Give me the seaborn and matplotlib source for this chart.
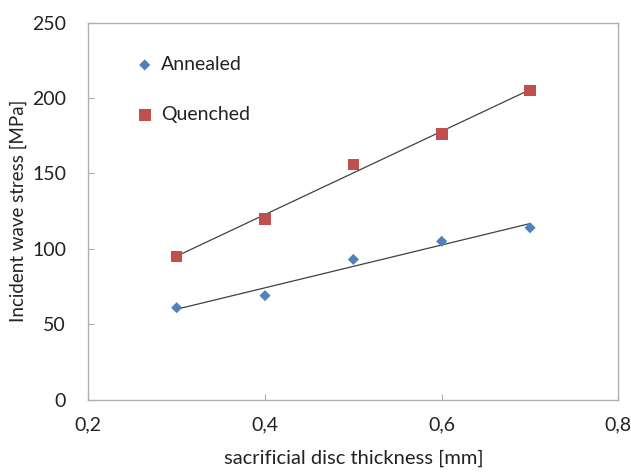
import matplotlib
matplotlib.use("Agg")
import matplotlib.pyplot as plt
import seaborn as sns
import pandas as pd
import numpy as np

thickness = [0.3, 0.4, 0.5, 0.6, 0.7]
annealed = [61, 69, 93, 105, 114]
quenched = [95, 120, 156, 176, 205]
series_names = ["Annealed", "Quenched"]
x_ticks = [0.2, 0.4, 0.6, 0.8]
x_tick_labels = ["0,2", "0,4", "0,6", "0,8"]
y_ticks = [0, 50, 100, 150, 200, 250]

df = pd.DataFrame({
    "x": thickness * 2,
    "y": annealed + quenched,
    "series": [series_names[0]] * len(thickness) + [series_names[1]] * len(thickness),
})

sns.set_theme(style="white")
plt.rcParams["font.family"] = ["Lato", "DejaVu Sans"]

fig = plt.figure(figsize=(6.31, 4.73), dpi=100)
ax = fig.add_axes([0.140, 0.155, 0.840, 0.797])

palette = {"Annealed": "#4F81BD", "Quenched": "#C0504D"}
markers = {"Annealed": "D", "Quenched": "s"}
sizes_map = {"Annealed": 32, "Quenched": 70}

for name in series_names:
    sub = df[df["series"] == name]
    sns.regplot(data=sub, x="x", y="y", ax=ax, scatter=False, ci=None, truncate=True,
                line_kws={"color": "#404040", "lw": 0.9, "zorder": 2})

for name in series_names:
    sub = df[df["series"] == name]
    sns.scatterplot(data=sub, x="x", y="y", ax=ax, color=palette[name], marker=markers[name],
                    s=sizes_map[name], edgecolor="none", label=name, zorder=3)

ax.set_xlim(0.2, 0.8)
ax.set_ylim(0, 250)
ax.set_xticks(x_ticks)
ax.set_xticklabels(x_tick_labels)
ax.set_yticks(y_ticks)
ax.tick_params(axis="both", labelsize=14, colors="#222222", length=4, width=0.8,
               direction="in", bottom=True, left=True)
ax.tick_params(axis="x", pad=12, color="#aaaaaa")
ax.tick_params(axis="y", pad=16, color="#aaaaaa")
for s in ax.spines.values():
    s.set_color("#b0b0b0")
    s.set_linewidth(1.0)

ax.set_xlabel("sacrificial disc thickness [mm]", fontsize=14.5, color="#222222")
ax.set_ylabel("Incident wave stress [MPa]", fontsize=13.5, color="#222222")
ax.xaxis.set_label_coords(0.5, -0.133)
ax.yaxis.set_label_coords(-0.115, 0.5)

leg = ax.legend(frameon=False, loc="upper left", bbox_to_anchor=(0.055, 0.958),
                fontsize=14, labelspacing=1.7, handlelength=1.0, handletextpad=0.35,
                markerscale=1.0)
for t in leg.get_texts():
    t.set_color("#222222")

fig.savefig("out.png", dpi=100)
